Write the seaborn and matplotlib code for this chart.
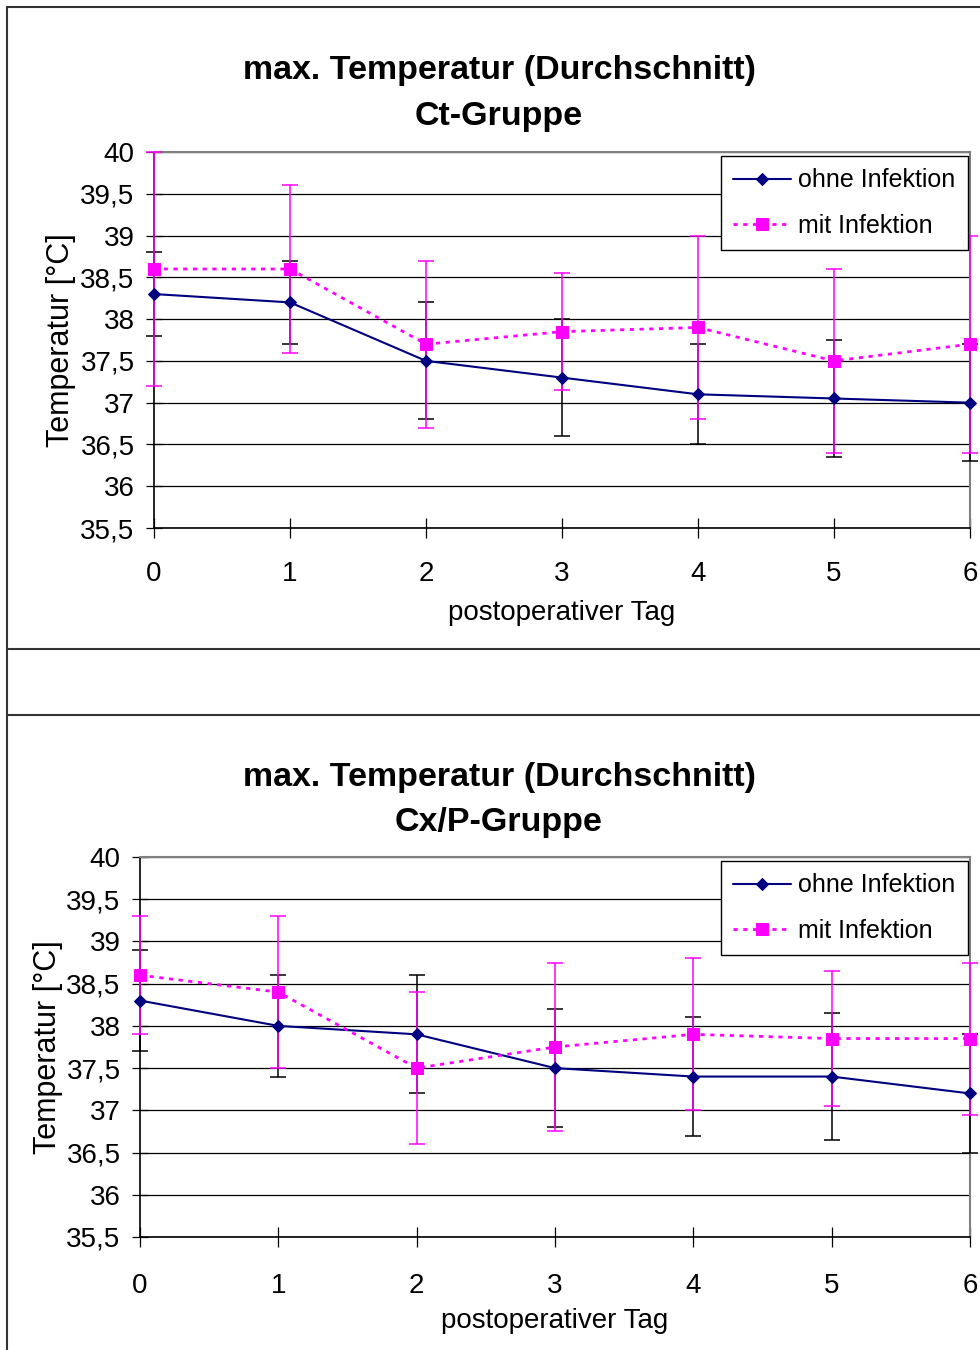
import matplotlib
matplotlib.use("Agg")
import matplotlib.pyplot as plt
from matplotlib.lines import Line2D
import seaborn as sns

# postoperative days and axis labels
DAYS = [0, 1, 2, 3, 4, 5, 6]
YTICKS = [35.5, 36, 36.5, 37, 37.5, 38, 38.5, 39, 39.5, 40]
YTICK_LABELS = ["35,5", "36", "36,5", "37", "37,5", "38", "38,5", "39", "39,5", "40"]

# Ct-Gruppe: mean max. temperature and spread
CT_OHNE = [38.3, 38.2, 37.5, 37.3, 37.1, 37.05, 37.0]
CT_OHNE_SD = [0.5, 0.5, 0.7, 0.7, 0.6, 0.7, 0.7]
CT_MIT = [38.6, 38.6, 37.7, 37.85, 37.9, 37.5, 37.7]
CT_MIT_SD = [1.4, 1.0, 1.0, 0.7, 1.1, 1.1, 1.3]

# Cx/P-Gruppe
CX_OHNE = [38.3, 38.0, 37.9, 37.5, 37.4, 37.4, 37.2]
CX_OHNE_SD = [0.6, 0.6, 0.7, 0.7, 0.7, 0.75, 0.7]
CX_MIT = [38.6, 38.4, 37.5, 37.75, 37.9, 37.85, 37.85]
CX_MIT_SD = [0.7, 0.9, 0.9, 1.0, 0.9, 0.8, 0.9]

NAVY = "#000080"
MAGENTA = "#ff00ff"
W, H = 980, 1350


def px_rect(left, top, right, bottom):
    return [left / W, 1 - bottom / H, (right - left) / W, (bottom - top) / H]


def panel(fig, rect, group, ohne, ohne_sd, mit, mit_sd, title_y, ylab_x, xlab_y, xpad):
    ax = fig.add_axes(rect)
    ax.errorbar(DAYS, ohne, yerr=ohne_sd, fmt="none", ecolor="black",
                elinewidth=1.1, capsize=5.5, capthick=1.1, clip_on=False, zorder=3)
    ax.errorbar(DAYS, mit, yerr=mit_sd, fmt="none", ecolor=MAGENTA,
                elinewidth=1.1, capsize=5.5, capthick=1.1, clip_on=False, zorder=4)
    sns.lineplot(x=DAYS, y=ohne, ax=ax, color=NAVY, lw=1.5, marker="D", ms=6,
                 mec=NAVY, mfc=NAVY, label="ohne Infektion", clip_on=False, zorder=5)
    sns.lineplot(x=DAYS, y=mit, ax=ax, color=MAGENTA, lw=2, linestyle=(0, (1.5, 2)),
                 marker="s", ms=9, mec=MAGENTA, mfc=MAGENTA, label="mit Infektion",
                 clip_on=False, zorder=6)

    ax.set_xlim(0, 6)
    ax.set_ylim(35.5, 40)
    ax.set_xticks(DAYS)
    ax.set_xticklabels([str(d) for d in DAYS])
    ax.set_yticks(YTICKS)
    ax.set_yticklabels(YTICK_LABELS)
    ax.tick_params(axis="x", bottom=True, direction="inout", length=14, width=0.9,
                   labelsize=20, pad=xpad, colors="black")
    ax.tick_params(axis="y", left=True, direction="inout", length=12, width=0.9,
                   labelsize=20, pad=8, colors="black")
    ax.grid(axis="y", color="black", lw=0.9)
    ax.grid(axis="x", visible=False)
    for side in ("left", "bottom"):
        ax.spines[side].set_color("black")
        ax.spines[side].set_linewidth(1.2)
    for side in ("top", "right"):
        ax.spines[side].set_color("#808080")
        ax.spines[side].set_linewidth(1.5)

    ax.set_xlabel("postoperativer Tag", fontsize=20)
    ax.set_ylabel("Temperatur [°C]", fontsize=22)
    ax.xaxis.set_label_coords(0.5, xlab_y)
    ax.yaxis.set_label_coords(ylab_x, 0.5)

    ax.legend(loc="upper right", bbox_to_anchor=(0.9975, 0.99), fontsize=18,
              frameon=True, fancybox=False, framealpha=1, edgecolor="black",
              borderaxespad=0, borderpad=0.5, labelspacing=0.85,
              handlelength=2.3, handletextpad=0.3)
    ax.get_legend().get_frame().set_linewidth(1.0)

    fig.text(499 / W, 1 - title_y / H, "max. Temperatur (Durchschnitt)",
             ha="center", va="center", fontsize=24.5, fontweight="bold")
    fig.text(499 / W, 1 - (title_y + 46) / H, group,
             ha="center", va="center", fontsize=24.5, fontweight="bold")
    return ax


def main():
    sns.set_theme(style="white")
    plt.rcParams["font.family"] = ["Liberation Sans", "DejaVu Sans"]
    plt.rcParams["text.color"] = "black"
    plt.rcParams["axes.labelcolor"] = "black"

    fig = plt.figure(figsize=(W / 100, H / 100), dpi=100)

    panel(fig, px_rect(154, 152, 970, 528), "Ct-Gruppe",
          CT_OHNE, CT_OHNE_SD, CT_MIT, CT_MIT_SD,
          title_y=71, ylab_x=-0.096, xlab_y=-0.191, xpad=17)
    panel(fig, px_rect(140, 857, 970, 1237), "Cx/P-Gruppe",
          CX_OHNE, CX_OHNE_SD, CX_MIT, CX_MIT_SD,
          title_y=777, ylab_x=-0.093, xlab_y=-0.187, xpad=19)

    # chart frames as in the office export
    frame = dict(color="#333333", lw=1.5, transform=fig.transFigure)
    fig.add_artist(Line2D([7 / W, 7 / W], [0, 1 - 7 / H], **frame))
    fig.add_artist(Line2D([7 / W, 1], [1 - 7 / H, 1 - 7 / H], **frame))
    fig.add_artist(Line2D([7 / W, 1], [1 - 649 / H, 1 - 649 / H], **frame))
    fig.add_artist(Line2D([7 / W, 1], [1 - 715 / H, 1 - 715 / H], **frame))

    fig.savefig("out.png", dpi=100)
    plt.close(fig)


if __name__ == "__main__":
    main()
